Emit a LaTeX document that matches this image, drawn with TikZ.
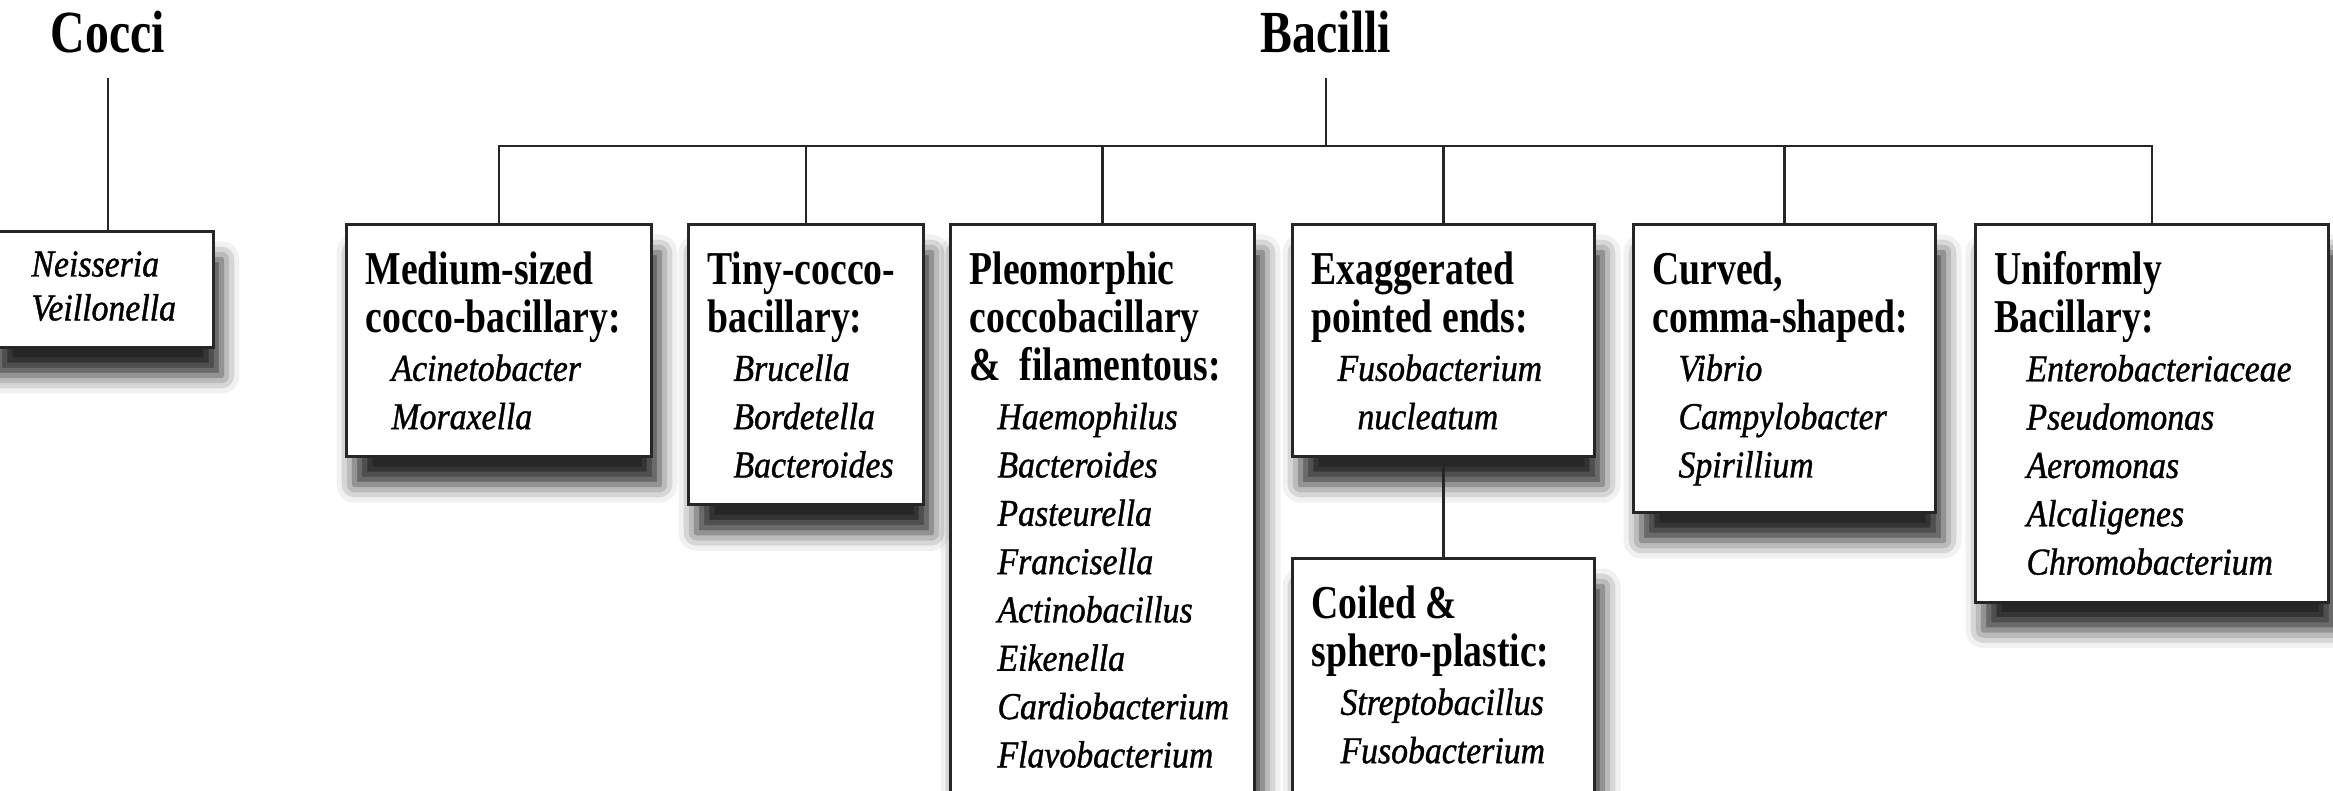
\documentclass[tikz,border=0pt]{standalone}
\usepackage{fontspec}
\usepackage{tikz}
\usetikzlibrary{shadows.blur}
\newfontfamily\headfont[FakeStretch=0.8]{Liberation Serif}
\newfontfamily\genusfont[FakeStretch=0.89, FakeBold=1]{Liberation Serif}
\colorlet{boxline}{black!85}
\newcommand{\gindent}{2.6mm}
\newcommand{\genus}[2][\gindent]{\hspace*{#1}{\genusfont\mdseries\itshape\fontsize{10.8}{13.75}\selectfont #2}}
\newcommand{\longbox}{\rule[-10mm]{0pt}{0pt}}
\tikzset{
  grpbox/.style={draw=boxline, line width=0.85pt, fill=white, anchor=north west,
    align=flush left, inner xsep=1.9mm, inner ysep=2.7mm,
    font=\headfont\bfseries\fontsize{13.4}{13.75}\selectfont,
    blur shadow={shadow xshift=0.8mm, shadow yshift=-2.8mm, shadow blur radius=1.8mm,
      shadow opacity=85}},
  toplabel/.style={anchor=base, inner sep=2.4mm, font=\headfont\bfseries\fontsize{17}{20}\selectfont},
  link/.style={draw=boxline, line width=0.65pt},
}

\begin{document}
\begin{tikzpicture}[x=0.1mm, y=-0.1mm]
  \useasboundingbox (0,0) rectangle (2333,791);

  % the two headings
  \node[toplabel] (cocci) at (108,53) {Cocci};
  \node[toplabel] (bacilli) at (1326,53) {Bacilli};

  % Cocci
  \node[grpbox, text width=18.9mm, minimum height=11.4mm, text height=1.8mm, text depth=4.4mm,
    font=\headfont\fontsize{10.8}{12.5}\selectfont] (neis) at (-15,230)
    {\genus{Neisseria}\\ \genus{Veillonella}};

  % Bacilli, top row
  \node[grpbox, text width=26.7mm] (medium) at (345,223)
    {Medium-sized\\ cocco-bacillary:\\ \genus{Acinetobacter}\\ \genus{Moraxella}};
  \node[grpbox, text width=19.7mm] (tiny) at (687,223)
    {Tiny-cocco-\\ bacillary:\\ \genus{Brucella}\\ \genus{Bordetella}\\ \genus{Bacteroides}};
  \node[grpbox, text width=26.6mm] (pleo) at (949,223)
    {Pleomorphic\\ coccobacillary\\ \&\ \ filamentous:\\
     \genus[2.8mm]{Haemophilus}\\ \genus[2.8mm]{Bacteroides}\\ \genus[2.8mm]{Pasteurella}\\
     \genus[2.8mm]{Francisella}\\ \genus[2.8mm]{Actinobacillus}\\ \genus[2.8mm]{Eikenella}\\
     \genus[2.8mm]{Cardiobacterium}\\ \genus[2.8mm]{Flavobacterium}\longbox};
  \node[grpbox, text width=26.4mm] (exag) at (1291,223)
    {Exaggerated\\ pointed ends:\\ \genus{Fusobacterium}\\ \genus[4.6mm]{nucleatum}};
  \node[grpbox, text width=26.4mm] (curved) at (1632,223)
    {Curved,\\ comma-shaped:\\ \genus{Vibrio}\\ \genus{Campylobacter}\\ \genus{Spirillium}};
  \node[grpbox, text width=31.5mm] (uniform) at (1974,223)
    {Uniformly\\ Bacillary:\\ \genus[3.2mm]{Enterobacteriaceae}\\ \genus[3.2mm]{Pseudomonas}\\
     \genus[3.2mm]{Aeromonas}\\ \genus[3.2mm]{Alcaligenes}\\ \genus[3.2mm]{Chromobacterium}};

  % under the pointed ends
  \node[grpbox, text width=26.4mm] (coiled) at (1291,557)
    {Coiled \&\\ sphero-plastic:\\ \genus[2.9mm]{Streptobacillus}\\ \genus[2.9mm]{Fusobacterium}\longbox};

  % connectors
  \coordinate (hub) at (1326,146);
  \draw[link] (cocci) -- (cocci |- neis.north);
  \draw[link] (bacilli) -- (hub);
  \foreach \grp in {medium,tiny,pleo,exag,curved,uniform}
    \draw[link] (hub) -| (\grp.north);
  \draw[link] (exag) -- (coiled);
\end{tikzpicture}
\end{document}
